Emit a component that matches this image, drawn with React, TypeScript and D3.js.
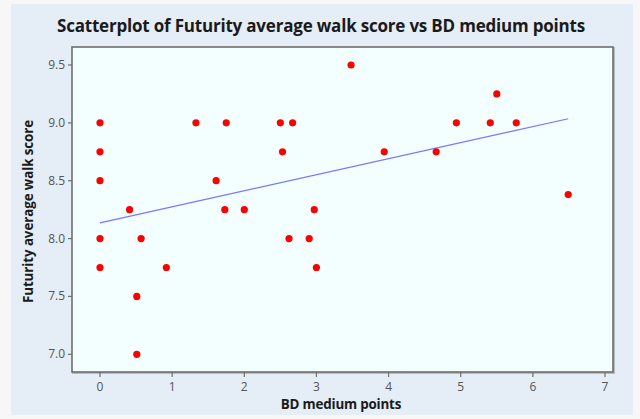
import React from "react";
import * as d3 from "d3";

const bdPoints = [0, 0, 0, 0, 0, 0.41, 0.57, 0.51, 0.51, 0.92, 1.33, 1.61, 1.75, 1.73, 2.0, 2.5, 2.67, 2.53, 2.62, 2.9, 2.97, 3.0, 3.48, 3.94, 4.66, 4.94, 5.41, 5.5, 5.77, 6.49];
const walkScore = [9.0, 8.75, 8.5, 8.0, 7.75, 8.25, 8.0, 7.5, 7.0, 7.75, 9.0, 8.5, 9.0, 8.25, 8.25, 9.0, 9.0, 8.75, 8.0, 8.0, 8.25, 7.75, 9.5, 8.75, 8.75, 9.0, 9.0, 9.25, 9.0, 8.38];
const xTicks = [0, 1, 2, 3, 4, 5, 6, 7];
const yTicks = [7.0, 7.5, 8.0, 8.5, 9.0, 9.5];

const W = 640, H = 419;
const L = 72, R = 613, T = 47, B = 372;

export default function App() {
  const x = d3.scaleLinear().domain([0, 7]).range([100, 605]);
  const y = d3.scaleLinear().domain([7, 9.5]).range([354.3, 65]);
  const n = bdPoints.length;
  const mx = d3.mean(bdPoints)!;
  const my = d3.mean(walkScore)!;
  let sxy = 0, sxx = 0;
  for (let i = 0; i < n; i++) {
    sxy += (bdPoints[i] - mx) * (walkScore[i] - my);
    sxx += (bdPoints[i] - mx) ** 2;
  }
  const slope = sxy / sxx;
  const icpt = my - slope * mx;
  const [x0, x1] = d3.extent(bdPoints) as [number, number];
  const line = d3.line<number>().x((d) => x(d)).y((d) => y(icpt + slope * d));

  return (
    <svg width={W} height={H} style={{ position: "absolute", left: 0, top: 0 }}>
      <rect x={0} y={0} width={W} height={H} fill="#f7f7f7" />
      <rect x={11} y={4} width={622} height={411} fill="#e5edf6" />
      <text x={321} y={32} textAnchor="middle" fontFamily="Open Sans" fontWeight="bold" fontSize={17} letterSpacing={-0.2} fill="#1a1a1a">
        Scatterplot of Futurity average walk score vs BD medium points
      </text>
      <rect x={L + 1} y={T + 1} width={R - L} height={B - T} fill="none" stroke="#bbbbbb" strokeWidth={2} />
      <rect x={L} y={T} width={R - L} height={B - T} fill="#f3fefe" stroke="#6e6e6e" strokeWidth={1.6} />
      {yTicks.map((t) => (
        <g key={"y" + t}>
          <line x1={L - 4} x2={L} y1={y(t)} y2={y(t)} stroke="#6e6e6e" strokeWidth={1.2} />
          <text x={L - 7} y={y(t) + 4} textAnchor="end" fontFamily="Open Sans" fontSize={12} fill="#555">
            {t.toFixed(1)}
          </text>
        </g>
      ))}
      {xTicks.map((t) => (
        <g key={"x" + t}>
          <line x1={x(t)} x2={x(t)} y1={B} y2={B + 5} stroke="#6e6e6e" strokeWidth={1.2} />
          <text x={x(t)} y={B + 19} textAnchor="middle" fontFamily="Open Sans" fontSize={12} fill="#555">
            {t}
          </text>
        </g>
      ))}
      <text x={341} y={409} textAnchor="middle" fontFamily="Open Sans" fontWeight="bold" fontSize={13.4} letterSpacing={-0.2} fill="#1a1a1a">
        BD medium points
      </text>
      <text transform={`translate(33,${(T + B) / 2 + 2}) rotate(-90)`} textAnchor="middle" fontFamily="Open Sans" fontWeight="bold" fontSize={13.4} letterSpacing={-0.1} fill="#1a1a1a">
        Futurity average walk score
      </text>
      <path d={line([x0, x1]) || ""} stroke="#7777ff" strokeWidth={1.2} fill="none" />
      {bdPoints.map((v, i) => (
        <circle key={i} cx={x(v)} cy={y(walkScore[i])} r={3.6} fill="#ff0000" />
      ))}
    </svg>
  );
}
